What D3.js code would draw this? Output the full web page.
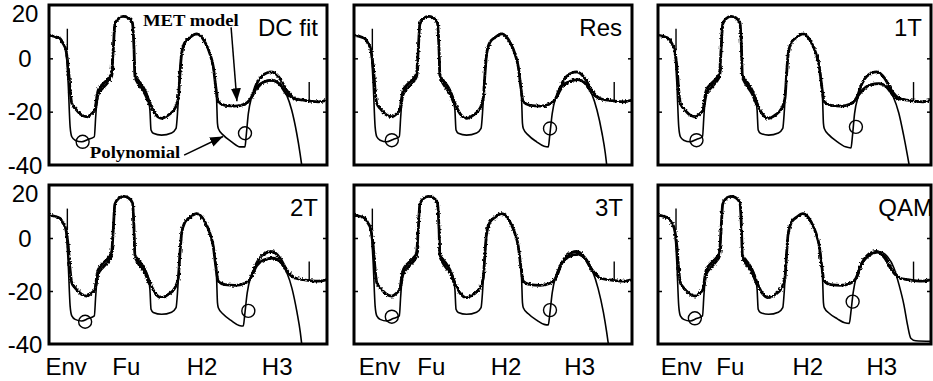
<!DOCTYPE html>
<html>
<head>
<meta charset="utf-8">
<script src="https://cdn.jsdelivr.net/npm/d3@7"></script>
<style>
  body { margin: 0; background: #fff; }
  svg { display: block; }
  text { fill: #000; }
</style>
</head>
<body>
<svg id="chart" width="933" height="381"></svg>
<script>
// panel titles, axis labels
const panelNames = ["DC fit", "Res", "1T", "2T", "3T", "QAM"];
const xLabels = ["Env", "Fu", "H2", "H3"];
const xLabelAt = [[6.0, 27.6, 54.9, 81.9], [9.0, 27.6, 54.5, 81.0], [8.4, 26.3, 54.7, 81.8]];
const yTicks = [20, 0, -20, -40];

// measured spectrum, [x, dB], same in every panel
const measured = [[0,8.6],[2,8.2],[4,7.4],[5.1,5.5],[6,3.5],[7,-4],[7.6,-12],[8.2,-16.9],[9.4,-18.8],
  [10.6,-20.2],[11.8,-21.3],[13.6,-21.9],[15.4,-20.7],[16.5,-19.4],[17.2,-14.5],[17.7,-12],[19.5,-9.5],
  [21.3,-7.6],[22.5,-5.7],[23.1,3],[23.7,12.8],[24.9,14.8],[26.7,15.7],[28.5,15.2],[30,13.3],[30.6,3],
  [30.9,-6.4],[32.1,-8.2],[34.5,-12],[36.3,-16.9],[38.1,-20.7],[40.5,-22.5],[42.9,-21.3],[45.3,-18.8],
  [46.5,-15.1],[47.1,-6],[47.7,1.7],[48.9,6],[50.7,7.8],[53.1,9.2],[56.1,6.1],[57.9,1.7],[59.1,-3.2],
  [60,-10.7],[60.9,-16.3],[63.3,-17.6],[66.9,-17.9],[70.5,-17.1],[72.9,-14.5],[74.7,-9.5],[76.5,-6.7],
  [80.1,-5.1],[83.1,-7.6],[85.5,-12],[88.5,-15.1],[91.5,-15.7],[96.9,-16.3],[100,-15.7]];
// spurs on the measured trace: [x, from, to]
const spurs = [[6.6, 3, 11.1], [93.6, -16, -8.9]];

// MET model where it leaves the measured trace
const metFuLeft = [[16.9,-18],[17.6,-13.8],[19.5,-11],[21.3,-8.9],[22.5,-6.8],[23,-3]];
const metFuRight = [[31,-7.4],[32.1,-9.6],[34.5,-13.3],[36.2,-17.5]];
const metHumpDC  = [[72.9,-14.5],[74.7,-11.5],[77.1,-9],[80.1,-8.2],[83.1,-9.8],[85.5,-13.5],[88.5,-15.2]];
const metHumpRes = [[72.9,-14.5],[74.7,-11],[77.4,-8.8],[80.5,-8],[83.4,-9.6],[85.6,-13],[88.5,-15.2]];
const metHump1T  = [[72.9,-14.5],[75,-12],[77.6,-10],[81,-9.5],[83.8,-10.8],[86.2,-14],[88.5,-15.5]];
const metHump2T  = [[72.9,-14.5],[74.7,-10.5],[77.4,-8.2],[80.5,-7.6],[83.4,-9.2],[85.6,-12.8],[88.5,-15.2]];
const metHump3T  = [[72.9,-14.5],[74.7,-9.5],[77.4,-7],[80.5,-6.2],[83.4,-8],[85.6,-12],[88.5,-15.1]];
const metHumpQAM = [[72.9,-14.5],[74.7,-9.5],[77.4,-6.5],[80.5,-5.3],[83.4,-7.4],[85.6,-11.8],[88.5,-15.1]];

// polynomial model: shared first part, then one tail per panel
const polyHead = [[0,8.6],[2,8.2],[4,7.4],[5.1,5.5],[6,3.5],[6.9,-9.5],[7.6,-25.7],[8.2,-29.4],[9.4,-30.7],
  [11.8,-31.3],[14.1,-30.4],[16.3,-29.4],[16.8,-21.9],[17.5,-13.2],[19,-10.1],[21.3,-7.6],[22.5,-5.7],
  [23.1,3],[23.7,12.8],[24.9,14.8],[26.7,15.7],[28.5,15.2],[30,13.3],[30.6,3],[30.9,-6.4],[32.1,-8.2],
  [34.5,-12],[35.8,-15.5],[36.3,-19.4],[36.7,-26.9],[37.5,-28.1],[40.5,-28.8],[44.1,-28],[45.7,-26.3],
  [46.3,-19.4],[46.8,-10.7],[47.7,1.7],[48.9,6],[50.7,7.8],[53.1,9.2],[56.1,6.1],[57.9,1.7],[59.1,-3.2],
  [60,-10.7]];
const polyTailDC  = [[60.3,-15.7],[60.6,-24.4],[60.9,-26.3],[62.7,-28.8],[65.7,-31.3],[68.7,-33.2],[70.5,-33.2],
  [70.9,-29.4],[71.7,-20.7],[72.9,-14.5],[74.7,-10.5],[77.1,-8.9],[80.1,-8.5],[83.1,-10.1],[85.5,-13.8],
  [87.3,-19.4],[89.1,-28.1],[90.3,-35.6],[90.9,-40]];
const polyTailRes = [[60.3,-15.7],[60.6,-24.4],[60.9,-26.3],[62.7,-28.8],[65.7,-31.3],[68.4,-33],[69.9,-33.2],
  [70.4,-29],[71.3,-20.7],[72.6,-14.5],[74.7,-10.3],[77.4,-8.6],[80.5,-8.2],[83.4,-9.8],[85.6,-13.5],
  [87.4,-19.4],[89.2,-28],[90.4,-35.6],[90.9,-40]];
const polyTail1T  = [[60.3,-15.7],[60.6,-24.4],[60.9,-26.3],[62.7,-28.8],[65.7,-31.3],[68.7,-33.2],[70.7,-33.6],
  [71.2,-29.4],[72,-20.7],[73.2,-14.8],[75,-11.5],[77.6,-9.9],[81,-9.5],[83.8,-10.8],[86.2,-14.5],
  [88.2,-20.5],[90,-29],[91.3,-36],[92,-40]];
const polyTail2T  = [[60.3,-15.7],[60.6,-24.4],[60.9,-26.3],[62.7,-28.8],[65.7,-31.3],[68.4,-33],[69.9,-33.2],
  [70.4,-29],[71.3,-20.7],[72.6,-14.5],[74.7,-10.3],[77.4,-8.4],[80.5,-7.8],[83.4,-9.4],[85.6,-13.2],
  [87.4,-19],[89.2,-28],[90.4,-35.6],[90.9,-40]];
const polyTail3T  = [[60.3,-15.7],[60.6,-24.4],[60.9,-26.3],[62.7,-28.6],[65.7,-31],[68.4,-32.6],[69.9,-32.8],
  [70.4,-29],[71.3,-20.7],[72.6,-14.2],[74.7,-9.8],[77.4,-7.2],[80.5,-6.3],[83.4,-8.2],[85.8,-12.5],
  [87.8,-19],[89.7,-28],[90.9,-35.6],[91.5,-40]];
const polyTailQAM = [[60.3,-15.7],[60.6,-24.4],[60.9,-26.3],[62.7,-28.4],[65.7,-30.5],[68.4,-32],[70.1,-32.2],
  [70.6,-28.5],[71.5,-20.5],[72.8,-14],[74.9,-9.5],[77.6,-6.5],[81,-5.2],[84,-7],[86.5,-11.5],
  [88.3,-17.7],[90.1,-25.3],[91.4,-32.8],[92.6,-37.8],[94.4,-38.8],[100,-39]];

// marked points (circles), two per panel
const circlesDC  = [[12.1,-31.3],[70.5,-28.1]];
const circlesRes = [[13.6,-30.7],[70.5,-26.3]];
const circles1T  = [[14.1,-30.7],[72.5,-25.7]];
const circles2T  = [[13.0,-31.6],[71.7,-27.5]];
const circles3T  = [[13.6,-29.7],[70.5,-27.2]];
const circlesQAM = [[13.5,-30.3],[71.3,-24.0]];

// annotations in first panel: label anchor, arrow start, arrow tip
const annotations = [
  { text: "MET model", at: [33.8, 12.3], from: [65.5, 11.6], to: [67.6, -16.1] },
  { text: "Polynomial", at: [14.7, -37.4], from: [48.6, -36.3], to: [62.6, -29.3] }
];

const panels = [
  { name: panelNames[0], met: metHumpDC,  tail: polyTailDC,  circles: circlesDC,  titleGap: 9 },
  { name: panelNames[1], met: metHumpRes, tail: polyTailRes, circles: circlesRes, titleGap: 10 },
  { name: panelNames[2], met: metHump1T,  tail: polyTail1T,  circles: circles1T,  titleGap: 9 },
  { name: panelNames[3], met: metHump2T,  tail: polyTail2T,  circles: circles2T,  titleGap: 9 },
  { name: panelNames[4], met: metHump3T,  tail: polyTail3T,  circles: circles3T,  titleGap: 9 },
  { name: panelNames[5], met: metHumpQAM, tail: polyTailQAM, circles: circlesQAM, titleGap: -2 }
];

const colLeft = [49, 354, 658], colRight = [327, 632, 931];
const rowTop = [5, 185], rowBottom = [165, 344];
const sans = '"Liberation Sans", Arial, sans-serif';
const serif = '"Liberation Serif", "Times New Roman", serif';

const svg = d3.select("#chart");
const defs = svg.append("defs");

// rough trace texture for the noisy measured / MET traces
const noise = defs.append("filter").attr("id", "noise")
  .attr("filterUnits", "userSpaceOnUse")
  .attr("x", 0).attr("y", 0).attr("width", 933).attr("height", 381);
noise.append("feTurbulence").attr("type", "fractalNoise")
  .attr("baseFrequency", 0.55).attr("numOctaves", 1).attr("seed", 4).attr("result", "t");
noise.append("feDisplacementMap").attr("in", "SourceGraphic").attr("in2", "t")
  .attr("scale", 3.5).attr("xChannelSelector", "R").attr("yChannelSelector", "G");

defs.append("marker").attr("id", "arrow")
  .attr("viewBox", "0 0 13 10").attr("refX", 13).attr("refY", 5)
  .attr("markerWidth", 13).attr("markerHeight", 10)
  .attr("markerUnits", "userSpaceOnUse").attr("orient", "auto")
  .append("path").attr("d", "M0,0 L13,5 L0,10 Z").attr("fill", "#000");

panels.forEach((p, i) => {
  const col = i % 3, row = Math.floor(i / 3);
  const x = d3.scaleLinear().domain([0, 100]).range([colLeft[col], colRight[col]]);
  const y = d3.scaleLinear().domain([-40, 20]).range([rowBottom[row], rowTop[row]]);
  const line = d3.line().x(d => x(d[0])).y(d => y(d[1])).curve(d3.curveMonotoneX);

  defs.append("clipPath").attr("id", "clip" + i)
    .append("rect")
    .attr("x", x(0)).attr("y", y(20))
    .attr("width", x(100) - x(0)).attr("height", y(-40) - y(20));

  const g = svg.append("g").attr("clip-path", `url(#clip${i})`);

  const rough = g.append("g").attr("filter", "url(#noise)");
  [measured, metFuLeft, metFuRight, p.met].forEach(s => {
    rough.append("path").attr("d", line(s))
      .attr("fill", "none").attr("stroke", "#000").attr("stroke-width", 2.8)
      .attr("stroke-linejoin", "round");
  });

  g.selectAll(".spur").data(spurs).join("line")
    .attr("x1", d => x(d[0])).attr("x2", d => x(d[0]))
    .attr("y1", d => y(d[1])).attr("y2", d => y(d[2]))
    .attr("stroke", "#000").attr("stroke-width", 1.4);

  g.append("path").attr("d", line(polyHead.concat(p.tail)))
    .attr("fill", "none").attr("stroke", "#000").attr("stroke-width", 1.6);

  g.selectAll(".mark").data(p.circles).join("circle")
    .attr("cx", d => x(d[0])).attr("cy", d => y(d[1])).attr("r", 6.5)
    .attr("fill", "none").attr("stroke", "#000").attr("stroke-width", 1.4);

  // frame and inner ticks
  svg.append("rect")
    .attr("x", x(0)).attr("y", y(20))
    .attr("width", x(100) - x(0)).attr("height", y(-40) - y(20))
    .attr("fill", "none").attr("stroke", "#000").attr("stroke-width", 3);

  svg.append("g").attr("transform", `translate(${x(0)},0)`)
    .call(d3.axisLeft(y).tickValues([0, -20]).tickSize(-4).tickFormat(""))
    .call(a => a.select(".domain").remove())
    .selectAll("line").attr("stroke-width", 1.5);
  svg.append("g").attr("transform", `translate(${x(100)},0)`)
    .call(d3.axisRight(y).tickValues([0, -20]).tickSize(-4).tickFormat(""))
    .call(a => a.select(".domain").remove())
    .selectAll("line").attr("stroke-width", 1.5);

  svg.append("text")
    .attr("x", x(100) - p.titleGap).attr("y", y(20) + 31)
    .attr("text-anchor", "end")
    .style("font-family", sans).style("font-size", "24px")
    .text(p.name);

  if (col === 0) {
    svg.selectAll(null).data(yTicks).join("text")
      .attr("x", 25)
      .attr("y", d => Math.max(y(d), y(20) + 8.5) + 8.5)
      .attr("text-anchor", "middle")
      .style("font-family", sans).style("font-size", "24px")
      .text(d => d);
  }

  if (row === 1) {
    const ax = svg.append("g").attr("transform", `translate(0,${y(-40)})`)
      .call(d3.axisBottom(x).tickValues(xLabelAt[col]).tickSize(0).tickPadding(14)
        .tickFormat((d, k) => xLabels[k]));
    ax.select(".domain").remove();
    ax.selectAll("text")
      .style("font-family", sans).style("font-size", "24px").attr("fill", "#000");
  }

  if (i === 0) {
    annotations.forEach(a => {
      svg.append("line")
        .attr("x1", x(a.from[0])).attr("y1", y(a.from[1]))
        .attr("x2", x(a.to[0])).attr("y2", y(a.to[1]))
        .attr("stroke", "#000").attr("stroke-width", 1.5)
        .attr("marker-end", "url(#arrow)");
      svg.append("text")
        .attr("transform", `translate(${x(a.at[0])},${y(a.at[1])}) scale(1.1,1)`)
        .style("font-family", serif).style("font-weight", "bold").style("font-size", "17px")
        .text(a.text);
    });
  }
});
</script>
</body>
</html>
